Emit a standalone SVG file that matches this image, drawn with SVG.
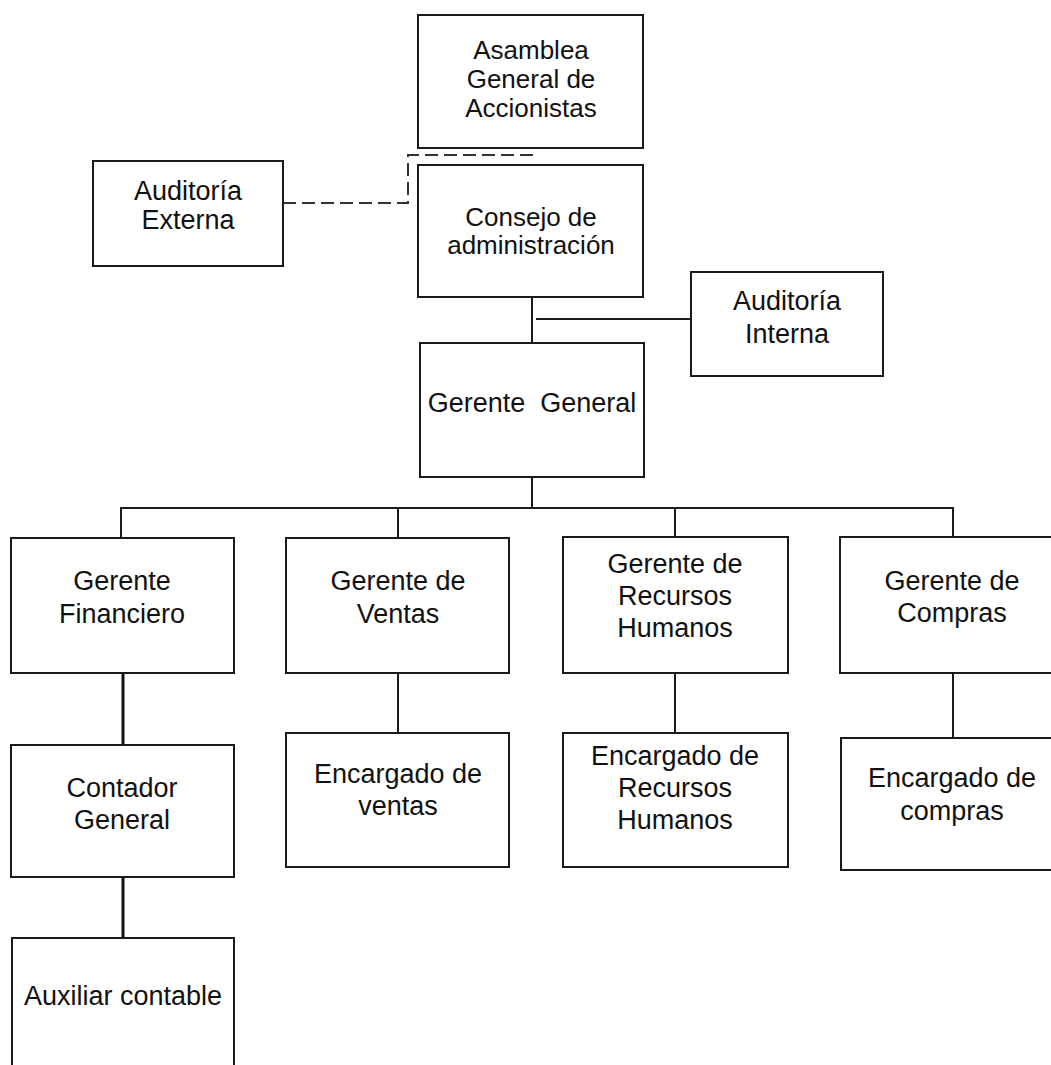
<svg xmlns="http://www.w3.org/2000/svg" width="1051" height="1065" viewBox="0 0 1051 1065">
<style>
.box{fill:#fff;stroke:#1a1a1a;stroke-width:2}
.t{font-family:"Liberation Sans",Arial,sans-serif;font-size:27px;fill:#111;text-anchor:middle}
.ts{font-family:"Liberation Sans",Arial,sans-serif;font-size:26px;fill:#111;text-anchor:middle}
.c{fill:none;stroke:#1a1a1a;stroke-width:2}
.ct{fill:none;stroke:#111;stroke-width:3}
.d{fill:none;stroke:#333;stroke-width:2;stroke-dasharray:13 6}
</style>
<rect width="1051" height="1065" fill="#fff"/>
<g id="connectors">
<path class="d" d="M283 203 H408 V155 H532 V148"/>
<path class="c" d="M532 297 V343"/>
<path class="c" d="M536 319 H692"/>
<path class="c" d="M532 477 V508"/>
<path class="c" d="M121 538 V508 H953 V537"/>
<path class="c" d="M398 508 V538"/>
<path class="c" d="M675 508 V537"/>
<path class="ct" d="M123 673 V745"/>
<path class="c" d="M398 673 V733"/>
<path class="c" d="M675 673 V733"/>
<path class="c" d="M953 673 V738"/>
<path class="ct" d="M123 877 V938"/>
</g>
<g id="asamblea">
<rect class="box" x="418" y="15" width="225" height="133"/>
<text class="ts" x="531" y="59">Asamblea</text>
<text class="ts" x="531" y="88">General de</text>
<text class="ts" x="531" y="117">Accionistas</text>
</g>
<g id="consejo">
<rect class="box" x="418" y="165" width="225" height="132"/>
<text class="ts" x="531" y="226">Consejo de</text>
<text class="ts" x="531" y="254">administración</text>
</g>
<g id="auditoria-externa">
<rect class="box" x="93" y="161" width="190" height="105"/>
<text class="t" x="188" y="200">Auditoría</text>
<text class="t" x="188" y="229">Externa</text>
</g>
<g id="auditoria-interna">
<rect class="box" x="691" y="272" width="192" height="104"/>
<text class="t" x="787" y="310">Auditoría</text>
<text class="t" x="787" y="343">Interna</text>
</g>
<g id="gerente-general">
<rect class="box" x="420" y="343" width="224" height="134"/>
<text class="t" x="532" y="412" xml:space="preserve">Gerente  General</text>
</g>
<g id="gerente-financiero">
<rect class="box" x="11" y="538" width="223" height="135"/>
<text class="t" x="122" y="590">Gerente</text>
<text class="t" x="122" y="623">Financiero</text>
</g>
<g id="gerente-ventas">
<rect class="box" x="286" y="538" width="223" height="135"/>
<text class="t" x="398" y="590">Gerente de</text>
<text class="t" x="398" y="623">Ventas</text>
</g>
<g id="gerente-rrhh">
<rect class="box" x="563" y="537" width="225" height="136"/>
<text class="t" x="675" y="573">Gerente de</text>
<text class="t" x="675" y="605">Recursos</text>
<text class="t" x="675" y="637">Humanos</text>
</g>
<g id="gerente-compras">
<rect class="box" x="840" y="537" width="225" height="136"/>
<text class="t" x="952" y="590">Gerente de</text>
<text class="t" x="952" y="622">Compras</text>
</g>
<g id="contador-general">
<rect class="box" x="11" y="745" width="223" height="132"/>
<text class="t" x="122" y="797">Contador</text>
<text class="t" x="122" y="829">General</text>
</g>
<g id="encargado-ventas">
<rect class="box" x="286" y="733" width="223" height="134"/>
<text class="t" x="398" y="783">Encargado de</text>
<text class="t" x="398" y="815">ventas</text>
</g>
<g id="encargado-rrhh">
<rect class="box" x="563" y="733" width="225" height="134"/>
<text class="t" x="675" y="765">Encargado de</text>
<text class="t" x="675" y="797">Recursos</text>
<text class="t" x="675" y="829">Humanos</text>
</g>
<g id="encargado-compras">
<rect class="box" x="841" y="738" width="224" height="132"/>
<text class="t" x="952" y="787">Encargado de</text>
<text class="t" x="952" y="820">compras</text>
</g>
<g id="auxiliar-contable">
<rect class="box" x="12" y="938" width="222" height="140"/>
<text class="t" x="123" y="1005">Auxiliar contable</text>
</g>
</svg>
